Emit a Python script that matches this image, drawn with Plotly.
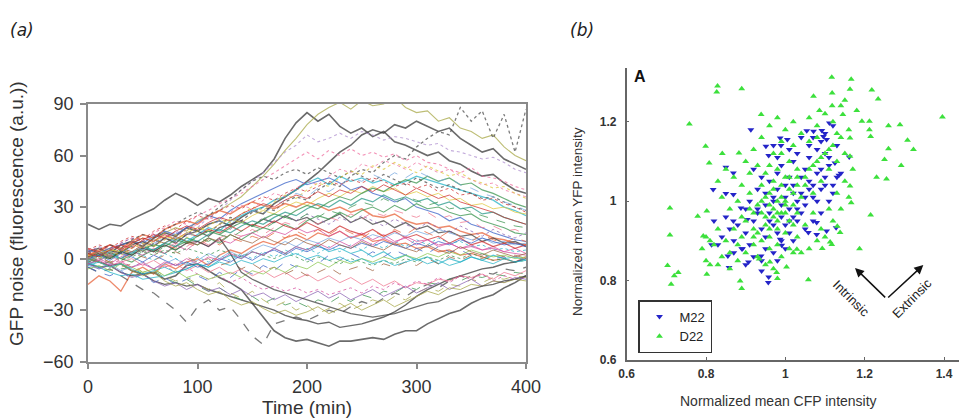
import plotly.graph_objects as go

# ---------------- Panel (a): GFP noise traces ----------------
time_min = [0, 10, 20, 30, 40, 50, 60, 70, 80, 90, 100, 110, 120, 130, 140, 150, 160, 170, 180, 190, 200,
            210, 220, 230, 240, 250, 260, 270, 280, 290, 300, 310, 320, 330, 340, 350, 360, 370, 380, 390, 400]

trace_01 = [20,17,20,19,23,26,29,34,38,35,31,35,33,37,42,46,50,58,70,79,85,80,84,77,73,76,71,74,68,66,63,60,62,57,55,51,48,49,44,40,38]
trace_02 = [4,6,3,8,10,7,12,15,13,18,16,20,22,19,24,28,26,32,36,40,45,50,56,62,66,72,75,73,78,76,80,77,74,76,70,66,62,64,58,55,52]
trace_03 = [2,4,6,3,9,12,10,15,18,16,22,25,28,32,36,42,48,55,63,70,78,84,88,91,87,92,89,90,94,88,85,86,80,82,76,74,70,72,65,60,57]
trace_04 = [1,3,0,5,7,4,9,12,10,14,18,15,20,24,22,27,30,28,33,36,34,40,44,42,48,52,50,56,60,58,65,70,74,72,88,80,86,70,84,62,87]
trace_05 = [3,6,4,9,12,10,15,18,22,20,25,28,32,35,38,42,46,50,54,58,62,58,63,60,64,60,62,59,61,57,60,56,55,52,50,53,48,47,45,42,40]
trace_06 = [-2,0,3,2,6,9,8,12,15,19,18,24,28,34,40,45,50,56,62,66,72,68,70,73,70,74,72,69,71,70,68,66,67,63,62,60,58,59,56,52,50]
trace_07 = [-3,-1,2,0,4,6,5,9,12,10,14,18,16,22,25,28,30,34,36,40,44,47,43,48,45,47,44,46,43,45,48,46,44,42,40,38,36,34,30,28,25]
trace_08 = [5,3,6,8,10,9,13,16,14,18,21,25,23,28,32,35,38,41,44,46,43,45,47,44,40,42,38,36,33,35,30,28,26,22,24,20,18,15,13,11,10]
trace_09 = [2,5,8,6,10,14,12,17,20,22,20,25,28,26,30,33,31,29,32,30,33,31,28,30,27,29,25,24,26,22,20,21,18,19,16,14,15,12,11,9,8]
trace_10 = [-15,-10,-13,-19,-8,-5,-9,-3,-6,-2,0,-4,2,5,3,7,10,8,12,14,11,15,13,16,12,14,10,11,8,9,6,7,4,5,2,3,1,-1,0,-2,1]
trace_11 = [0,-2,-4,-3,-7,-9,-8,-12,-10,-4,-3,-7,-11,-14,-18,-26,-34,-42,-46,-48,-47,-49,-51,-48,-48,-47,-46,-47,-44,-42,-42,-38,-35,-32,-30,-26,-23,-21,-17,-14,-10]
trace_12 = [-3,-5,-4,-8,-10,-9,-13,-15,-14,-16,-15,-18,-20,-22,-24,-26,-28,-30,-33,-35,-36,-38,-37,-40,-39,-38,-36,-34,-31,-27,-22,-18,-15,-12,-10,-8,-6,-5,-3,-2,0]
trace_13 = [-5,-8,-6,-10,-14,-18,-20,-25,-30,-37,-28,-24,-30,-28,-36,-45,-50,-38,-36,-34,-36,-33,-30,-32,-28,-25,-27,-23,-20,-22,-18,-15,-17,-13,-10,-12,-8,-9,-6,-7,-5]
trace_14 = [0,2,5,3,8,10,7,12,9,14,16,13,18,20,22,19,23,21,25,22,24,20,23,26,21,24,20,22,18,21,17,19,15,16,13,14,10,12,9,10,7]
trace_15 = [3,1,4,0,-2,2,5,3,7,10,8,12,9,14,11,15,18,16,20,17,22,25,23,27,24,28,30,27,31,28,32,29,30,27,25,26,22,20,18,15,14]
trace_16 = [-2,0,-3,1,4,2,6,3,8,5,10,7,11,9,13,15,12,16,14,18,15,17,13,16,12,15,11,14,10,12,8,11,7,9,6,8,5,7,4,6,3]
trace_17 = [-5,-8,-10,-7,-12,-9,-14,-11,-15,-12,-10,-13,-8,-11,-6,-9,-4,-7,-2,-5,0,-3,2,-1,3,0,4,1,5,2,6,3,7,4,5,2,3,0,1,-2,0]
trace_18 = [-2,-5,-8,-10,-9,-12,-11,-10,-8,-6,-3,-5,-1,2,0,4,2,6,3,7,5,8,4,6,3,5,1,4,0,2,-1,1,-3,0,-2,1,-1,2,0,1,-1]
trace_19 = [0,-3,-2,-6,-5,-9,-7,-11,-14,-12,-16,-19,-17,-21,-24,-22,-26,-23,-27,-25,-28,-24,-26,-22,-25,-21,-23,-19,-20,-16,-18,-14,-15,-12,-13,-10,-11,-9,-10,-8,-9]
trace_20 = [2,0,-2,-5,-3,-8,-6,-10,-13,-11,-15,-18,-14,-20,-23,-19,-24,-28,-25,-30,-27,-32,-29,-26,-30,-27,-24,-26,-22,-24,-20,-17,-19,-15,-16,-12,-14,-11,-12,-10,-11]
trace_21 = [4,7,5,9,12,10,14,11,16,13,18,15,20,17,22,19,24,21,25,22,26,23,20,24,21,25,22,19,23,20,17,21,18,15,19,16,13,17,14,12,15]
trace_22 = [6,4,8,5,9,12,10,14,11,15,13,17,15,19,16,20,18,22,19,17,21,18,15,19,16,14,17,13,16,12,14,11,13,9,12,8,10,7,9,6,8]
trace_23 = [-4,-6,-3,-7,-5,-2,-6,-3,0,-4,-1,3,0,4,1,5,8,6,10,7,11,9,12,10,13,11,14,12,15,13,16,14,17,15,13,11,12,9,10,8,9]
trace_24 = [1,-1,2,-2,0,-4,-1,-5,-3,-7,-4,-8,-5,-9,-6,-10,-7,-11,-8,-12,-9,-13,-10,-14,-11,-15,-12,-16,-13,-17,-14,-15,-12,-13,-10,-11,-9,-12,-8,-10,-7]
trace_25 = [0,3,1,5,3,7,5,9,7,12,10,14,17,15,19,22,20,24,27,25,29,32,30,34,31,35,33,37,34,36,33,35,31,33,29,30,26,27,24,22,20]
trace_26 = [-1,1,-2,0,3,1,-1,2,4,1,-2,0,-4,-2,-6,-3,-7,-5,-9,-6,-10,-8,-5,-9,-6,-4,-7,-3,-5,-2,-4,0,-3,1,-1,2,0,3,1,2,0]
trace_27 = [1,3,5,4,8,6,10,13,11,15,18,16,20,23,21,25,28,26,30,33,31,35,38,36,40,38,42,39,41,37,39,36,38,34,35,31,32,29,30,27,26]
trace_28 = [-1,2,0,4,2,6,8,7,11,9,13,16,14,18,21,19,23,26,24,28,31,29,33,36,34,38,41,39,43,46,44,48,45,47,43,44,40,38,35,32,30]
trace_29 = [2,0,-3,-1,-5,-2,-6,-4,-8,-5,-9,-12,-10,-14,-11,-15,-18,-16,-19,-17,-20,-18,-21,-19,-17,-20,-16,-18,-14,-17,-13,-15,-11,-14,-10,-12,-9,-13,-10,-12,-11]
trace_30 = [0,2,-1,3,1,-2,2,-1,-4,-2,-5,-3,0,-2,2,-1,3,5,2,6,4,7,5,8,6,9,7,10,8,6,9,7,10,8,11,9,12,10,8,9,7]
trace_31 = [3,5,8,6,11,14,12,17,20,24,27,25,30,35,40,45,48,46,50,52,49,53,50,47,51,48,45,49,46,43,47,44,41,43,40,38,35,36,33,30,28]
trace_32 = [5,8,6,10,13,11,16,19,17,22,25,23,28,31,29,33,36,34,38,41,39,42,45,43,46,44,47,45,42,44,41,43,39,41,37,38,34,35,32,30,27]
trace_33 = [-6,-4,-7,-3,-5,-8,-6,-10,-7,-11,-9,-12,-10,-8,-11,-7,-9,-5,-8,-4,-6,-2,-5,-1,-3,0,-2,1,-1,2,0,3,1,4,2,5,3,1,2,0,1]
trace_34 = [-3,-6,-4,-8,-11,-9,-13,-16,-14,-18,-15,-19,-17,-21,-18,-22,-20,-24,-21,-25,-22,-19,-23,-20,-24,-21,-18,-22,-19,-16,-20,-17,-14,-18,-15,-12,-16,-13,-14,-11,-12]
trace_35 = [2,4,1,5,3,7,4,8,6,9,7,11,8,12,10,13,11,15,12,16,13,17,14,18,15,12,16,13,17,14,18,15,12,16,13,10,14,11,9,12,10]
trace_36 = [-1,1,3,0,4,2,-1,3,0,-3,1,-2,2,-1,3,0,4,1,5,2,6,3,7,4,8,5,9,6,10,7,11,8,12,9,10,7,8,5,6,4,5]
trace_37 = [0,-2,-5,-3,-7,-10,-8,-13,-16,-14,-18,-21,-19,-24,-27,-25,-29,-32,-30,-33,-31,-28,-32,-29,-26,-30,-27,-24,-28,-25,-22,-19,-21,-17,-18,-15,-16,-13,-14,-12,-13]
trace_38 = [1,3,0,4,2,6,4,8,5,9,10,7,12,3,-8,-12,-15,-18,-20,-22,-24,-26,-28,-30,-32,-33,-34,-33,-32,-30,-28,-26,-25,-22,-20,-18,-16,-15,-13,-12,-10]
trace_39 = [0,-2,1,-1,3,5,2,6,9,7,11,8,12,15,13,17,14,18,21,19,23,20,24,22,26,23,27,25,28,26,24,27,23,25,21,22,18,19,16,17,14]
trace_40 = [-2,0,2,-1,1,4,2,5,3,6,4,2,5,3,1,4,2,0,3,1,-2,1,-1,-3,0,-2,-4,-1,-3,0,-2,1,-1,2,0,3,1,-1,0,-2,-1]
trace_41 = [0,3,1,5,8,6,10,14,12,17,20,24,22,27,31,29,34,38,36,41,45,43,48,52,50,55,53,57,55,52,56,53,50,52,48,46,43,44,40,38,36]
trace_42 = [2,0,4,2,6,9,7,11,14,12,16,19,23,21,26,30,28,33,37,35,40,44,42,47,51,49,54,52,56,53,50,54,51,48,50,46,44,41,42,38,35]
trace_43 = [-1,2,4,3,7,5,9,12,10,15,13,18,22,20,25,28,26,31,34,38,36,41,39,43,47,45,49,46,50,47,51,48,45,47,43,41,38,36,33,31,28]
trace_44 = [3,1,5,8,6,11,14,12,16,19,17,21,24,22,26,29,32,30,34,37,35,39,36,40,38,42,39,43,40,37,41,38,35,37,33,31,29,27,24,22,20]
trace_45 = [0,-2,1,-1,2,5,3,7,5,9,12,10,14,12,16,19,17,21,24,22,26,24,28,26,30,33,31,35,32,36,34,31,33,29,30,27,25,23,21,19,18]
trace_46 = [-3,-1,-4,-2,-5,-3,-6,-2,-4,0,-3,1,-1,3,0,4,2,6,3,7,5,9,6,10,7,11,8,12,9,13,10,11,8,9,6,7,5,6,4,3,2]
trace_47 = [1,4,2,6,4,8,11,9,13,10,8,12,10,14,11,9,13,10,8,12,9,7,11,8,6,10,7,5,9,6,4,8,5,3,7,4,2,5,3,1,3]
trace_48 = [-4,-2,-5,-3,-6,-9,-7,-5,-8,-6,-3,-5,-2,-4,-1,-3,0,-2,1,3,0,2,-1,1,-2,0,-3,-1,-4,-2,0,-3,-1,-4,-2,1,-1,-3,0,-2,-1]

all_traces = [trace_01, trace_02, trace_03, trace_04, trace_05, trace_06, trace_07, trace_08, trace_09, trace_10,
              trace_11, trace_12, trace_13, trace_14, trace_15, trace_16, trace_17, trace_18, trace_19, trace_20,
              trace_21, trace_22, trace_23, trace_24, trace_25, trace_26, trace_27, trace_28, trace_29, trace_30,
              trace_31, trace_32, trace_33, trace_34, trace_35, trace_36, trace_37, trace_38, trace_39, trace_40,
              trace_41, trace_42, trace_43, trace_44, trace_45, trace_46, trace_47, trace_48]

# styles (colour, dash, width) for each trace
trace_styles = [
    ("#3a3a3a", "solid", 1.6), ("#3a3a3a", "solid", 1.6), ("#a8a848", "solid", 1.1), ("#505050", "dot", 1.3),
    ("#f070a0", "dot", 1.1), ("#b090d0", "dot", 1.1), ("#28b4c8", "solid", 1.3), ("#3c64c8", "solid", 1.1),
    ("#e8643c", "solid", 1.5), ("#e8643c", "solid", 1.3), ("#3a3a3a", "solid", 1.6), ("#3a3a3a", "solid", 1.4),
    ("#505050", "dash", 1.3), ("#404040", "solid", 1.3), ("#3c9650", "solid", 1.1), ("#d850a0", "solid", 1.0),
    ("#3c64c8", "dash", 1.0), ("#28b4c8", "solid", 1.1), ("#3c9650", "dash", 1.0), ("#a8a848", "dash", 1.0),
    ("#8c64b4", "dot", 1.0), ("#d03030", "solid", 1.1), ("#78a8e0", "solid", 1.0), ("#f07890", "solid", 1.0),
    ("#2a9a8a", "solid", 1.2), ("#a06440", "dash", 1.0), ("#e0c840", "solid", 1.0), ("#3c9650", "solid", 1.2),
    ("#d850a0", "dot", 1.0), ("#3c64c8", "solid", 1.0), ("#505050", "dot", 1.2), ("#d03030", "dot", 1.0),
    ("#8cc850", "solid", 1.0), ("#8c64b4", "solid", 1.0), ("#e8643c", "dash", 1.0), ("#28b4c8", "dot", 1.0),
    ("#a8a848", "solid", 1.0), ("#404040", "solid", 1.3), ("#f07890", "dash", 1.0), ("#3c9650", "dot", 1.0),
    ("#f070a0", "dot", 1.0), ("#e0c840", "dot", 1.1), ("#78a8e0", "dash", 1.0), ("#d03030", "solid", 1.0),
    ("#3c9650", "dash", 1.0), ("#d850a0", "solid", 1.0), ("#a06440", "solid", 1.0), ("#28b4c8", "solid", 1.0),
]

# ---------------- Panel (b): scatter ----------------
m22_cfp = [0.913,0.951,0.958,0.987,1.005,0.989,1.054,1.071,1.092,1.111,1.096,1.104,1.161,1.135,1.125,0.850,0.869,
           0.818,0.850,0.869,0.869,0.888,0.904,0.814,0.855,0.858,0.892,0.907,0.939,0.940,0.958,0.957,0.991,0.987,
           1.058,1.079,1.104,1.128,1.079,
           0.92,0.93,0.95,0.96,0.97,0.98,0.99,1.00,1.01,1.02,1.03,1.04,1.05,1.06,1.07,1.08,1.09,1.10,1.11,1.12,
           0.94,0.95,0.97,0.98,1.00,1.01,1.03,1.04,0.96,0.98,0.99,1.01,1.02,1.03,1.05,1.06,1.08,1.09,1.10,1.07,
           0.90,0.88,0.87,0.89,0.91,0.86,0.85,0.84,0.83,0.82,0.93,0.91,0.90,0.94,0.92,0.95,0.97,0.99,1.00,1.02,
           1.05,1.07,1.09,1.11,1.12,1.13,1.14,1.04,1.00,0.97,0.95,0.99,1.02,1.06,1.08,1.10,1.02,0.96,0.93,0.92,
           0.94,0.90,0.87,0.98,1.01,1.03,1.05,1.07,1.09,1.11,1.13,1.06,1.04,1.01,0.98,0.97,1.10,1.12]
m22_yfp = [1.180,1.138,1.115,1.159,1.155,1.140,1.177,1.176,1.178,1.197,1.163,1.155,1.111,1.065,1.096,1.085,1.071,
           1.029,1.019,1.017,0.950,0.983,0.954,0.890,0.862,0.833,0.880,0.847,0.862,0.824,0.809,0.795,0.889,0.904,
           0.921,0.916,0.925,0.933,0.946,
           0.95,0.98,1.02,0.97,1.00,1.03,0.96,1.01,0.98,1.04,1.00,1.02,0.99,1.05,1.01,1.07,1.03,1.06,1.09,1.04,
           0.93,0.91,0.94,0.92,0.94,0.92,0.95,0.97,1.05,1.07,1.09,1.06,1.10,1.12,1.08,1.11,1.13,1.15,1.12,1.16,
           0.92,0.94,0.90,0.88,0.89,0.93,0.96,0.91,0.89,0.95,1.03,1.00,0.98,1.06,1.08,0.88,0.87,0.90,0.88,0.90,
           0.93,0.95,0.97,1.00,1.02,1.06,1.07,1.06,1.04,1.01,0.99,0.99,1.02,1.03,1.00,1.04,0.96,0.95,0.97,0.86,
           0.85,0.84,0.87,0.85,0.95,0.98,1.01,1.04,1.08,1.11,1.14,1.14,1.16,1.13,1.11,1.14,1.17,1.19]

d22_cfp = [0.829,0.827,0.890,0.758,0.939,0.799,0.841,0.808,0.883,0.709,0.779,0.802,0.709,0.793,0.703,0.730,0.720,
           0.712,0.802,0.886,0.890,0.980,1.058,1.093,1.187,1.215,1.166,1.117,1.166,1.071,1.118,1.150,1.163,1.218,
           1.234,1.086,1.118,1.145,1.180,1.193,1.212,1.260,1.289,1.396,1.212,1.215,1.308,1.323,1.260,1.250,1.292,
           1.163,1.230,1.255,1.163,1.163,1.131,1.138,1.113,1.117,1.020,1.029,1.003,0.978,0.934,0.961,
           0.90,0.92,0.94,0.95,0.96,0.97,0.98,0.99,1.00,1.01,1.02,1.03,1.04,1.05,1.06,1.07,1.08,1.09,1.10,1.11,
           1.12,1.13,1.14,1.15,1.16,0.93,0.95,0.96,0.97,0.98,0.99,1.00,1.01,1.02,1.03,0.94,0.95,0.96,0.97,0.98,
           0.99,1.00,1.01,1.02,1.03,0.85,0.86,0.87,0.88,0.89,0.84,0.83,0.82,0.81,0.80,0.79,0.80,0.81,0.83,0.86,
           0.88,0.90,0.92,0.93,0.95,0.97,0.99,1.01,1.03,1.05,1.07,1.09,1.11,1.13,1.15,1.17,1.16,1.14,1.12,1.10,
           1.08,1.06,1.04,0.91,0.89,0.87,0.88,0.86,0.84,0.85,0.83,0.90,0.92,0.94,0.96,0.98,1.00,1.02,1.04,1.06,
           1.08,1.10,1.12,1.14,1.06,1.08,0.99,0.97,0.93,0.91,0.96,0.98,1.00,1.02,0.94,0.92,0.89,0.91,0.93,0.95,
           0.97,0.99,1.01,1.03,1.05,1.07,1.09,1.11,1.13,0.98,1.00,0.96,0.94,0.92,0.96,0.98]
d22_yfp = [1.290,1.275,1.283,1.194,1.218,1.138,1.120,1.096,1.121,0.983,0.962,0.975,0.915,0.912,0.838,0.820,0.812,
           0.791,0.816,0.799,0.780,0.805,0.802,0.881,0.880,0.965,0.996,1.312,1.307,1.264,1.272,1.254,1.282,1.280,
           1.257,1.228,1.240,1.218,1.228,1.201,1.201,1.190,1.192,1.212,1.180,1.163,1.153,1.130,1.132,1.105,1.090,
           1.159,1.060,1.056,1.113,1.038,0.937,0.921,0.897,0.891,0.870,0.879,0.834,0.820,0.854,0.847,
           0.95,0.97,1.00,0.96,0.93,0.98,0.95,1.01,0.97,1.03,0.99,1.06,1.01,1.04,1.08,1.02,1.10,1.05,1.12,1.08,
           1.14,1.10,1.16,1.12,1.18,0.92,0.94,0.99,0.96,0.93,0.97,1.00,0.95,1.02,0.97,1.04,1.07,1.09,1.05,1.08,
           1.12,1.06,1.10,1.14,1.08,0.90,0.87,0.93,0.89,0.91,0.86,0.93,0.89,0.90,0.91,0.88,0.85,0.84,0.84,0.83,
           0.85,0.87,0.89,0.86,0.84,0.83,0.86,0.88,0.91,0.94,0.97,0.93,0.98,1.02,1.05,1.08,1.01,0.98,0.95,0.91,
           0.90,0.88,0.87,1.02,1.04,1.06,1.00,0.98,1.01,1.08,1.05,1.10,1.13,1.16,1.19,1.21,1.18,1.20,1.17,1.21,
           1.19,1.22,1.20,1.24,1.15,1.16,1.15,1.12,1.09,1.07,1.02,1.00,0.92,0.94,0.97,0.93,0.96,0.98,0.99,1.01,
           1.03,1.04,1.06,1.04,1.06,1.09,1.11,1.13,1.17,0.97,0.99,0.91,0.90,0.91,0.88,0.89]

FONT = "Liberation Sans, Arial, sans-serif"

fig = go.Figure()

for vals, (col, dash, w) in zip(all_traces, trace_styles):
    fig.add_trace(go.Scatter(x=time_min, y=vals, mode="lines", xaxis="x", yaxis="y",
                             line=dict(color=col, dash=dash, width=w), opacity=0.75,
                             showlegend=False, hoverinfo="skip"))

fig.add_trace(go.Scatter(x=m22_cfp, y=m22_yfp, mode="markers", name="M22", xaxis="x2", yaxis="y2",
                         marker=dict(symbol="triangle-down", size=6, color="#2424c8", line=dict(width=0))))
fig.add_trace(go.Scatter(x=d22_cfp, y=d22_yfp, mode="markers", name="D22", xaxis="x2", yaxis="y2",
                         marker=dict(symbol="triangle-up", size=6, color="#3ce03c", line=dict(width=0))))

W, H = 959, 419
left_dom_x = [88 / W, 526 / W]
left_dom_y = [1 - 361.7 / H, 1 - 104 / H]
right_dom_x = [626.7 / W, 1.0]
right_dom_y = [1 - 360 / H, 1 - 68 / H]

axis_common_left = dict(showgrid=False, zeroline=False, showline=True, linecolor="#8a8a8a", linewidth=1.5,
                        mirror=True, ticks="outside", ticklen=6, tickwidth=1.5, tickcolor="#8a8a8a",
                        automargin=False,
                        tickfont=dict(family=FONT, size=18, color="#333333"))
axis_common_right = dict(showgrid=False, zeroline=False, showline=True, linecolor="#666666", linewidth=1.5,
                         mirror=False, ticks="inside", ticklen=3, tickwidth=1, tickcolor="#666666",
                         automargin=False,
                         tickfont=dict(family=FONT, size=12, color="#333333"))

fig.update_layout(
    template="none",
    width=W, height=H, margin=dict(l=0, r=0, t=0, b=0, pad=0, autoexpand=False),
    paper_bgcolor="white", plot_bgcolor="white",
    xaxis=dict(domain=left_dom_x, range=[0, 400], tickvals=[0, 100, 200, 300, 400], anchor="y",
               ticklabelstandoff=2, **axis_common_left),
    yaxis=dict(domain=left_dom_y, range=[-60, 90], tickvals=[-60, -30, 0, 30, 60, 90], anchor="x",
               ticklabelstandoff=3, **axis_common_left),
    xaxis2=dict(domain=right_dom_x, range=[0.6, 1.4378], tickvals=[0.6, 0.8, 1.0, 1.2, 1.4],
                ticktext=["<b>0.6</b>", "<b>0.8</b>", "<b>1</b>", "<b>1.2</b>", "<b>1.4</b>"], anchor="y2",
                ticklabelstandoff=2, **axis_common_right),
    yaxis2=dict(domain=right_dom_y, range=[0.6, 1.3352], tickvals=[0.6, 0.8, 1.0, 1.2],
                ticktext=["<b>0.6</b>", "<b>0.8</b>", "<b>1</b>", "<b>1.2</b>"], anchor="x2",
                ticklabelstandoff=6, **axis_common_right),
    legend=dict(x=638 / W, y=1 - 300 / H, xanchor="left", yanchor="top", bordercolor="#333333",
                borderwidth=1.5, bgcolor="white", font=dict(family=FONT, size=13, color="#222222"),
                itemwidth=30, tracegroupgap=0),
)


def label(text, px, py, size, angle=0, family=FONT, color="#333333"):
    return dict(text=text, x=px / W, y=1 - py / H, xref="paper", yref="paper", showarrow=False,
                xanchor="center", yanchor="middle", textangle=angle,
                font=dict(family=family, size=size, color=color))


annotations = [
    label("<i>(a)</i>", 22, 30, 17, family="DejaVu Sans", color="#222222"),
    label("<i>(b)</i>", 582, 30, 17, family="DejaVu Sans", color="#222222"),
    label("GFP noise (fluorescence (a.u.))", 17, 214, 19, angle=-90),
    label("Time (min)", 307, 407, 19),
    label("Normalized mean YFP intensity", 577, 222, 13.5, angle=-90),
    label("Normalized mean CFP intensity", 778, 401, 14),
    label("<b>A</b>", 640, 76, 16, color="#111111"),
    # arrows
    dict(text="", x=1.1756, y=0.8317, ax=1.2555, ay=0.754, xref="x2", yref="y2", axref="x2", ayref="y2",
         showarrow=True, arrowhead=2, arrowsize=1.2, arrowwidth=1.5, arrowcolor="#111111"),
    dict(text="", x=1.3478, y=0.839, ax=1.2555, ay=0.754, xref="x2", yref="y2", axref="x2", ayref="y2",
         showarrow=True, arrowhead=2, arrowsize=1.2, arrowwidth=1.5, arrowcolor="#111111"),
    dict(text="Intrinsic", x=1.167, y=0.756, xref="x2", yref="y2", showarrow=False, textangle=45,
         xanchor="center", yanchor="middle", font=dict(family=FONT, size=13, color="#222222")),
    dict(text="Extrinsic", x=1.3185, y=0.756, xref="x2", yref="y2", showarrow=False, textangle=-45,
         xanchor="center", yanchor="middle", font=dict(family=FONT, size=13, color="#222222")),
]
fig.update_layout(annotations=annotations)

# the page's default 8px body margin would shift the fixed-size figure; remove it
fig.write_html("out.html", config={"displayModeBar": False},
               post_script="document.body.style.margin='0px';")
